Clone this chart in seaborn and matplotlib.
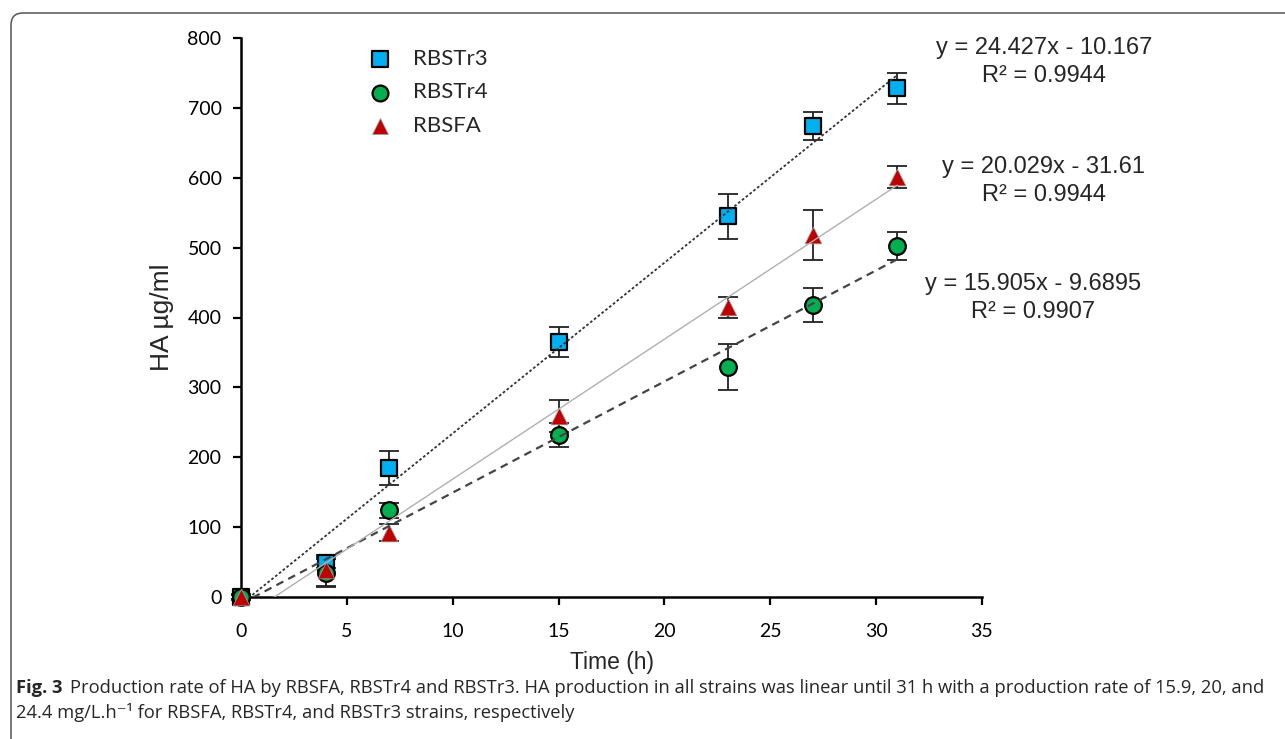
import numpy as np
import pandas as pd
import matplotlib
matplotlib.use("Agg")
import matplotlib.pyplot as plt
import matplotlib.patches as patches
from matplotlib import font_manager
import seaborn as sns

# data
time_h = [0, 4, 7, 15, 23, 27, 31]
rbstr3 = [0, 49, 185, 365, 545, 674, 728]
rbstr3_err = [4, 8, 24, 21, 32, 20, 22]
rbstr4 = [0, 35, 124, 232, 329, 418, 503]
rbstr4_err = [3, 20, 11, 17, 33, 24, 20]
rbsfa = [0, 38, 92, 259, 415, 518, 601]
rbsfa_err = [3, 22, 12, 23, 15, 36, 16]

strains = ["RBSTr3", "RBSTr4", "RBSFA"]
slopes = [24.427, 15.905, 20.029]
intercepts = [-10.167, -9.6895, -31.61]
r2 = [0.9944, 0.9907, 0.9944]
fit_range = [0, 31]

installed = {f.name for f in font_manager.fontManager.ttflist}
narrow = "Liberation Sans Narrow" if "Liberation Sans Narrow" in installed else "Liberation Sans"

sns.set_theme(style="ticks")
plt.rcParams["font.family"] = ["Lato", "DejaVu Sans"]

fig = plt.figure(figsize=(12.85, 7.39), dpi=100)
ax = fig.add_axes([241 / 1285, 1 - 597 / 739, (982 - 241) / 1285, (597 - 38) / 739])

series = {
    "RBSTr3": (rbstr3, rbstr3_err, "s", "#00B0F0", "black", 12),
    "RBSTr4": (rbstr4, rbstr4_err, "o", "#00B050", "black", 12),
    "RBSFA": (rbsfa, rbsfa_err, "^", "#C00000", "#999999", 12),
}
line_styles = {
    "RBSTr3": dict(color="#333333", lw=1.3, dashes=(1.5, 1.2)),
    "RBSTr4": dict(color="#444444", lw=1.6, dashes=(3.5, 2.5)),
    "RBSFA": dict(color="#b0b0b0", lw=1.0, dashes=(None, None)),
}

rows = []
for name, (vals, errs, *_ ) in series.items():
    for t, v, e in zip(time_h, vals, errs):
        rows.append({"time": t, "ha": v, "err": e, "strain": name})
df = pd.DataFrame(rows)

# error bars
for name, (vals, errs, mk, fc, ec, ms) in series.items():
    ax.errorbar(time_h, vals, yerr=errs, fmt="none", ecolor="#222222",
                elinewidth=1.3, capsize=7, capthick=1.3, zorder=2, clip_on=False)

# markers
for name, (vals, errs, mk, fc, ec, ms) in series.items():
    sub = df[df["strain"] == name]
    sns.scatterplot(data=sub, x="time", y="ha", marker=mk, color=fc, edgecolor=ec,
                    linewidth=1.6 if ec == "black" else 0.6, s=ms ** 2, ax=ax,
                    zorder=3, clip_on=False, label=name)

# linear trendlines
for name, a, b in zip(strains, slopes, intercepts):
    xs = np.array(fit_range, dtype=float)
    fit = pd.DataFrame({"time": xs, "ha": a * xs + b})
    st = line_styles[name]
    sns.lineplot(data=fit, x="time", y="ha", ax=ax, color=st["color"], lw=st["lw"], zorder=4)
    line = ax.lines[-1]
    if st["dashes"][0] is not None:
        line.set_dashes(st["dashes"])

ax.set_xlim(0, 35)
ax.set_ylim(0, 800)
ax.set_xticks(range(0, 36, 5))
ax.set_yticks(range(0, 801, 100))
for s in ["top", "right"]:
    ax.spines[s].set_visible(False)
for s in ["left", "bottom"]:
    ax.spines[s].set_linewidth(1.8)
    ax.spines[s].set_color("black")
ax.tick_params(direction="out", length=6, width=1.6, colors="black", labelsize=14, pad=8)
ax.tick_params(axis="x", pad=13)
ax.set_xlabel("Time (h)", fontsize=16.5, family="Liberation Sans", labelpad=8)
ax.set_ylabel("HA µg/ml", fontsize=19, family="Liberation Sans", labelpad=10)

leg = ax.legend(loc="upper left", bbox_to_anchor=(0.145, 0.997), frameon=False,
                fontsize=16, handletextpad=0.5, labelspacing=0.62, borderaxespad=0)
for h in leg.legend_handles:
    h.set_sizes([130])

# equations
eq_pos = {"RBSTr3": (1044, 62), "RBSFA": (1044, 181), "RBSTr4": (1033, 298)}
for name, a, b, r in zip(strains, slopes, intercepts, r2):
    x, y = eq_pos[name]
    txt = f"y = {a:g}x - {abs(b):g}\nR² = {r:.4f}"
    fig.text(x / 1285, 1 - y / 739, txt, ha="center", va="center", fontsize=17,
             family=narrow, linespacing=1.3)

# caption frame
frame = patches.FancyBboxPatch((0.11, -1.0), 14.0, 8.26, boxstyle="round,pad=0,rounding_size=0.12",
                               transform=fig.dpi_scale_trans, fill=False, edgecolor="#555555",
                               lw=1.1, clip_on=False)
fig.patches.append(frame)

cap_font = ["Open Sans", "DejaVu Sans"]
cap_size = 13.2
fig.canvas.draw()
r = fig.canvas.get_renderer()
t1 = fig.text(16 / 1285, 1 - 688 / 739, "Fig. 3", fontsize=cap_size, weight="bold", family=cap_font, va="center")
bb = t1.get_window_extent(renderer=r)
fig.text((bb.x1 + 8) / 1285, 1 - 688 / 739,
         "Production rate of HA by RBSFA, RBSTr4 and RBSTr3. HA production in all strains was linear until 31 h with a production rate of 15.9, 20, and",
         fontsize=cap_size, family=cap_font, va="center")
fig.text(16 / 1285, 1 - 713 / 739,
         "24.4 mg/L.h⁻¹ for RBSFA, RBSTr4, and RBSTr3 strains, respectively",
         fontsize=cap_size, family=cap_font, va="center")

fig.savefig("out.png", dpi=100)
